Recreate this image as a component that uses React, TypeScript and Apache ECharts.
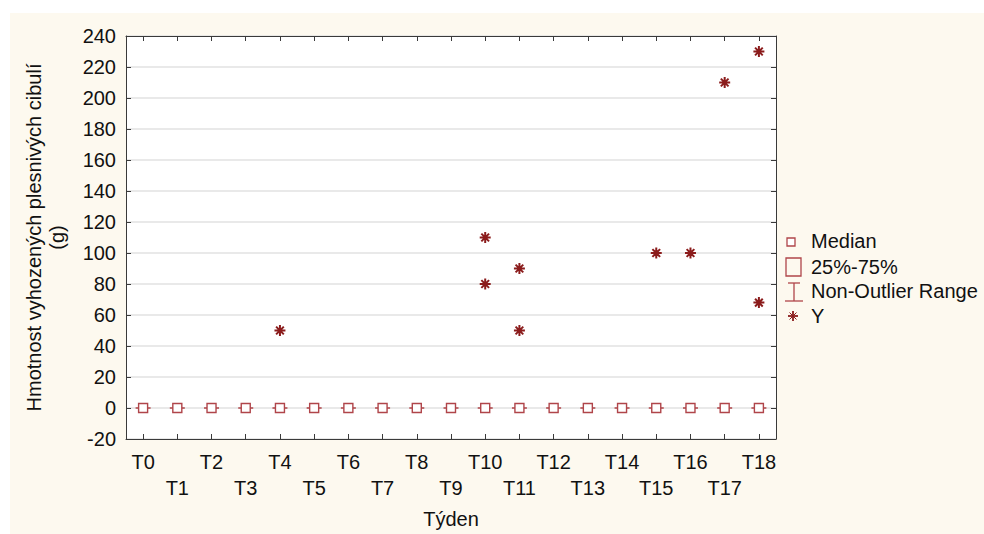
import React, { useEffect, useRef } from "react";
import * as echarts from "echarts";

const categories = ["T0","T1","T2","T3","T4","T5","T6","T7","T8","T9","T10","T11","T12","T13","T14","T15","T16","T17","T18"];
const medians = [0,0,0,0,0,0,0,0,0,0,0,0,0,0,0,0,0,0,0];
const q1 = [0,0,0,0,0,0,0,0,0,0,0,0,0,0,0,0,0,0,0];
const q3 = [0,0,0,0,0,0,0,0,0,0,0,0,0,0,0,0,0,0,0];
const whiskerLow = [0,0,0,0,0,0,0,0,0,0,0,0,0,0,0,0,0,0,0];
const whiskerHigh = [0,0,0,0,0,0,0,0,0,0,0,0,0,0,0,0,0,0,0];
const outlierCategories = ["T4","T10","T10","T11","T11","T15","T16","T17","T18","T18"];
const outlierValues = [50,110,80,90,50,100,100,210,230,68];

const yTicks = { min: -20, max: 240, interval: 20 };

const BOX = "#b0454a";
const STAR = "#8b1c1c";
const FONT = "'Liberation Sans', Arial, sans-serif";
const ASTERISK = "path://M0,5L10,5M5,0L5,10M1.5,1.5L8.5,8.5M8.5,1.5L1.5,8.5";
const AXIS_COLOR = "#3a3a3a";

export default function App() {
  const ref = useRef<HTMLDivElement>(null);
  useEffect(() => {
    if (!ref.current) return;
    const chart = echarts.init(ref.current, null, { renderer: "svg" });
    const boxData = categories.map((_, i) => [whiskerLow[i], q1[i], medians[i], q3[i], whiskerHigh[i]]);
    const medianData = categories.map((c, i) => [c, medians[i]]);
    const outlierData = outlierCategories.map((c, i) => [c, outlierValues[i]]);
    const lx = 785;
    const axisLine = { show: true, onZero: false, lineStyle: { color: AXIS_COLOR, width: 1 } };
    const tick = { show: true, inside: true, length: 5, lineStyle: { color: AXIS_COLOR } };
    chart.setOption({
      animation: false,
      backgroundColor: "transparent",
      textStyle: { fontFamily: FONT },
      grid: { left: 126, top: 36, right: 208, bottom: 93, show: true, backgroundColor: "#ffffff", borderWidth: 0 },
      xAxis: [
        {
          type: "category",
          data: categories,
          position: "bottom",
          boundaryGap: true,
          axisLine,
          axisTick: { ...tick, alignWithLabel: true, interval: 0 },
          axisLabel: {
            interval: 0,
            fontSize: 20,
            lineHeight: 26,
            margin: 10,
            color: "#111",
            fontFamily: FONT,
            formatter: (v: string, i: number) => (i % 2 ? "\n" + v : v),
          },
          splitLine: { show: false },
          name: "Týden",
          nameLocation: "middle",
          nameGap: 70,
          nameTextStyle: { fontSize: 20, color: "#111", fontFamily: FONT },
        },
        {
          type: "category",
          data: categories,
          position: "top",
          boundaryGap: true,
          axisLine,
          axisTick: { ...tick, alignWithLabel: true, interval: 0 },
          axisLabel: { show: false },
          splitLine: { show: false },
        },
      ],
      yAxis: [
        {
          type: "value",
          position: "left",
          min: yTicks.min,
          max: yTicks.max,
          interval: yTicks.interval,
          axisLine,
          axisTick: tick,
          axisLabel: { fontSize: 20, margin: 10, color: "#111", fontFamily: FONT },
          splitLine: { show: true, lineStyle: { color: "#e2e2e2", width: 1.5 } },
          name: "Hmotnost vyhozených plesnivých cibulí\n(g)",
          nameLocation: "middle",
          nameGap: 58,
          nameTextStyle: { fontSize: 20, lineHeight: 23, color: "#111", fontFamily: FONT },
        },
        {
          type: "value",
          position: "right",
          min: yTicks.min,
          max: yTicks.max,
          interval: yTicks.interval,
          axisLine,
          axisTick: tick,
          axisLabel: { show: false },
          splitLine: { show: false },
        },
      ],
      series: [
        {
          name: "25%-75%",
          type: "boxplot",
          xAxisIndex: 0,
          yAxisIndex: 0,
          data: boxData,
          boxWidth: [15, 15],
          itemStyle: { color: "#ffffff", borderColor: BOX, borderWidth: 1.6 },
          z: 3,
        },
        {
          name: "Median",
          type: "scatter",
          xAxisIndex: 0,
          yAxisIndex: 0,
          data: medianData,
          symbol: "rect",
          symbolSize: 9,
          itemStyle: { color: "#ffffff", borderColor: BOX, borderWidth: 1.4, opacity: 1 },
          z: 4,
        },
        {
          name: "Y",
          type: "scatter",
          xAxisIndex: 0,
          yAxisIndex: 0,
          data: outlierData,
          symbol: ASTERISK,
          symbolSize: 11,
          itemStyle: { color: "transparent", borderColor: STAR, borderWidth: 2, opacity: 1 },
          z: 5,
        },
      ],
      graphic: [
        { type: "rect", shape: { x: lx + 2, y: 238, width: 8, height: 8 }, style: { fill: "#fff", stroke: BOX, lineWidth: 1.3 } },
        { type: "text", x: 811, y: 241, style: { text: "Median", font: `20px ${FONT}`, fill: "#111", verticalAlign: "middle" } },
        { type: "rect", shape: { x: lx + 1, y: 258, width: 15, height: 18 }, style: { fill: "none", stroke: BOX, lineWidth: 1.3 } },
        { type: "text", x: 811, y: 267, style: { text: "25%-75%", font: `20px ${FONT}`, fill: "#111", verticalAlign: "middle" } },
        { type: "line", shape: { x1: lx + 3, y1: 283, x2: lx + 15, y2: 283 }, style: { stroke: BOX, lineWidth: 1.3 } },
        { type: "line", shape: { x1: lx + 9, y1: 283, x2: lx + 9, y2: 301 }, style: { stroke: BOX, lineWidth: 1.3 } },
        { type: "line", shape: { x1: lx, y1: 301, x2: lx + 18, y2: 301 }, style: { stroke: BOX, lineWidth: 1.3 } },
        { type: "text", x: 811, y: 291, style: { text: "Non-Outlier Range", font: `20px ${FONT}`, fill: "#111", verticalAlign: "middle" } },
        { type: "line", shape: { x1: lx + 3, y1: 316, x2: lx + 13, y2: 316 }, style: { stroke: STAR, lineWidth: 1.8 } },
        { type: "line", shape: { x1: lx + 8, y1: 311, x2: lx + 8, y2: 321 }, style: { stroke: STAR, lineWidth: 1.8 } },
        { type: "line", shape: { x1: lx + 4.5, y1: 312.5, x2: lx + 11.5, y2: 319.5 }, style: { stroke: STAR, lineWidth: 1 } },
        { type: "line", shape: { x1: lx + 11.5, y1: 312.5, x2: lx + 4.5, y2: 319.5 }, style: { stroke: STAR, lineWidth: 1 } },
        { type: "text", x: 811, y: 316, style: { text: "Y", font: `20px ${FONT}`, fill: "#111", verticalAlign: "middle" } },
      ],
    });
    return () => chart.dispose();
  }, []);
  return (
    <div style={{ position: "fixed", left: 0, top: 0, width: 984, height: 534, background: "#ffffff" }}>
      <div style={{ position: "absolute", left: 10, top: 13, width: 974, height: 521, background: "#fdf9ef" }} />
      <div ref={ref} style={{ position: "absolute", left: 0, top: 0, width: 984, height: 534 }} />
    </div>
  );
}
